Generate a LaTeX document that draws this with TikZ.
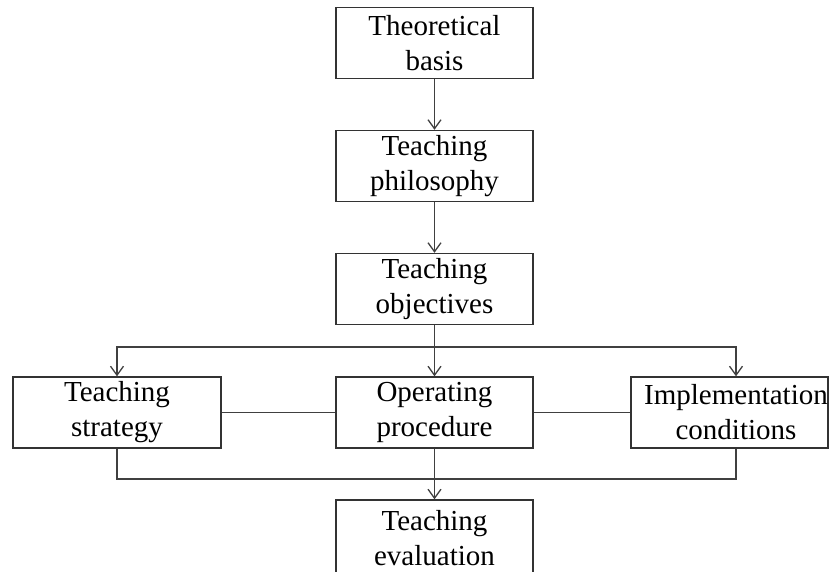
\documentclass[tikz,border=0pt]{standalone}
\usepackage{fontspec}
\setmainfont{Liberation Serif}
\usetikzlibrary{arrows.meta}
\begin{document}
\begin{tikzpicture}[x=1pt,y=1pt,
  box/.style={draw=black!80, line width=1.4pt, rectangle, minimum height=71pt, inner sep=0pt,
    font=\fontsize{29}{35}\selectfont, align=center},
  txt/.style={inner sep=0pt, font=\fontsize{29}{35}\selectfont, align=center},
  conn/.style={draw=black!75, line width=1.4pt},
  arr/.style={conn, -{Straight Barb[length=9pt,width=13pt,line width=1.3pt]}}]
\useasboundingbox (0,0) rectangle (830,571);
\node[box, minimum width=197pt] (theo) at (434.5,528) {Theoretical\\basis};
\node[box, minimum width=197pt] (phil) at (434.5,405) {Teaching\\philosophy};
\node[box, minimum width=197pt] (obj) at (434.5,282) {Teaching\\objectives};
\node[box, minimum width=208pt] (strat) at (117,158.5) {Teaching\\strategy};
\node[box, minimum width=197pt] (oper) at (434.5,158.5) {Operating\\procedure};
\node[box, minimum width=197pt] (impl) at (729.5,158.5) {};
\node[txt] (impltext) at (736,158.5) {Implementation\\conditions};
\node[box, minimum width=197pt, minimum height=76pt] (eval) at (434.5,33) {Teaching\\evaluation};
\coordinate (split) at (434.5,224);
\coordinate (join) at (434.5,92);
\draw[arr] (theo) -- (phil);
\draw[arr] (phil) -- (obj);
\draw[arr] (obj) -- (oper);
\draw[arr] (split) -| (strat.north);
\draw[arr] (split) -| ([xshift=6.5pt]impl.north);
\draw[conn] (strat) -- (oper);
\draw[conn] (oper) -- (impl);
\draw[conn] (strat.south) |- (join) -| ([xshift=6.5pt]impl.south);
\draw[arr] (oper) -- (eval);
\end{tikzpicture}
\end{document}
